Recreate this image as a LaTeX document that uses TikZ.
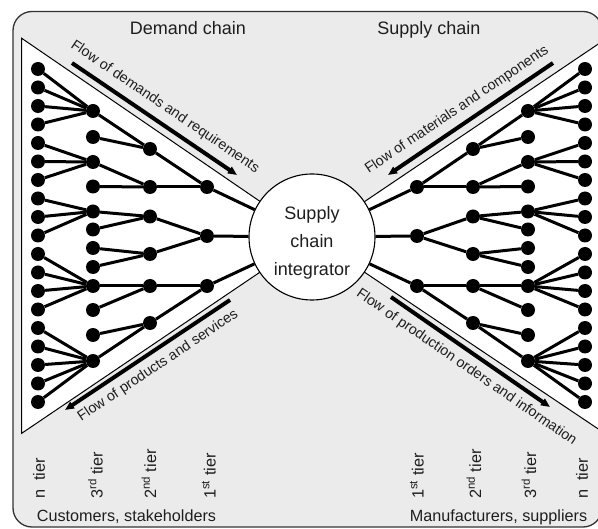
\documentclass[tikz,border=0pt]{standalone}
\usepackage{fontspec}
\setmainfont{Liberation Sans}
\usetikzlibrary{arrows.meta}
\definecolor{bggray}{RGB}{235,235,235}
\definecolor{txt}{RGB}{30,30,30}
\tikzset{
  dot/.style={circle, fill=black, inner sep=0pt, minimum size=14pt},
  link/.style={line width=3pt},
  flowbar/.style={line width=4pt, -{Triangle[length=9pt,width=7.5pt]}},
  flowtext/.style={font=\fontsize{14.3}{17}\selectfont, inner sep=0pt, text=txt},
  tiertext/.style={font=\fontsize{16.3}{19}\selectfont, rotate=90, anchor=west, inner sep=0pt, text=txt},
  titletext/.style={font=\fontsize{18}{21}\selectfont, anchor=base, inner sep=0pt, text=txt},
  bottomtext/.style={font=\fontsize{16.2}{19}\selectfont, anchor=base, inner sep=0pt, text=txt},
}
\begin{document}
\begin{tikzpicture}[x=1pt,y=-1pt]
\useasboundingbox (0,0) rectangle (598,529);
% frame
\draw[fill=bggray, draw=black!80, line width=1.3pt, rounded corners=19pt] (13,11.5) rectangle (602,527);
% triangles
\draw[fill=white, line width=1pt] (21.7,38.3) -- (312,237) -- (21.7,433.3) -- cycle;
\draw[fill=white, line width=1pt] (605,39.5) -- (312,237) -- (605,433.5) -- cycle;
% titles
\node[titletext] (tdemand) at (188,35) {Demand chain};
\node[titletext] (tsupply) at (429,35) {Supply chain};
% flow arrows
\coordinate (lta) at (72,63);  \coordinate (ltb) at (237,175);
\coordinate (lba) at (230,300); \coordinate (lbb) at (65,410);
\coordinate (rta) at (553,63); \coordinate (rtb) at (388,175);
\coordinate (rba) at (391,297); \coordinate (rbb) at (550,407);
\draw[flowbar] (lta) -- (ltb);
\draw[flowbar] (lba) -- (lbb);
\draw[flowbar] (rta) -- (rtb);
\draw[flowbar] (rba) -- (rbb);
\node[flowtext, rotate=-34.2] (flt) at (165,107) {Flow of demands and requirements};
\node[flowtext, rotate=33.7] (flb) at (158,366) {Flow of products and services};
\node[flowtext, rotate=34.0] (frt) at (457,110) {Flow of materials and components};
\node[flowtext, rotate=-34.6] (frb) at (466.5,367.5) {Flow of production orders and information};
% integrator circle
\node[circle, draw, fill=white, line width=1.1pt, minimum size=126pt, inner sep=0pt] (integ) at (312,237) {};
\node[align=center, inner sep=0pt, font=\fontsize{18}{28}\selectfont, text=txt] (integtext) at (312,242.5) {Supply\\chain\\integrator};
% dots
\foreach \i in {1,...,19} {
  \pgfmathsetmacro\yy{69+18.5*(\i-1)}
  \node[dot] (Ln\i) at (38,\yy) {};
  \node[dot] (Rn\i) at (585,\yy) {};
}
\foreach \n/\y in {a/111,b/137,c/162,d/186.5,e/211.5,f/229.5,g/248,h/267,i/286,j/310,k/335,l/361} {
  \node[dot] (L3\n) at (93,\y) {};
  \node[dot] (R3\n) at (528,\y) {};
}
\foreach \n/\y in {1/149,2/187,3/216.5,4/254,5/286,6/323} {
  \node[dot] (L2\n) at (150,\y) {};
  \node[dot] (R2\n) at (473,\y) {};
}
\foreach \n/\y in {1/187,2/236,3/286} {
  \node[dot] (L1\n) at (207,\y) {};
  \node[dot] (R1\n) at (417,\y) {};
}
% links
\foreach \s in {L,R} {
  \foreach \k in {1,2,3,4} { \draw[link] (\s n\k) -- (\s3a); }
  \foreach \k in {5,6,7} { \draw[link] (\s n\k) -- (\s3c); }
  \foreach \k in {8,9,10} { \draw[link] (\s n\k) -- (\s3e); }
  \foreach \k in {11,12,13,14} { \draw[link] (\s n\k) -- (\s3i); }
  \foreach \k in {15,16,17,18,19} { \draw[link] (\s n\k) -- (\s3l); }
  \foreach \a/\b in {a/1,b/1,c/2,d/2,e/3,f/3,g/4,h/4,i/5,j/5,k/6,l/6} { \draw[link] (\s3\a) -- (\s2\b); }
  \foreach \a/\b in {1/1,2/1,3/2,4/2,5/3,6/3} { \draw[link] (\s2\a) -- (\s1\b); }
  \foreach \a in {1,2,3} { \draw[link] (\s1\a) -- (integ); }
}
% tier labels
\node[tiertext] (ltn) at (39,499) {n\ \ tier};
\node[tiertext] (lt3) at (95.5,499) {3\textsuperscript{rd} tier};
\node[tiertext] (lt2) at (149,499) {2\textsuperscript{nd} tier};
\node[tiertext] (lt1) at (209,499) {1\textsuperscript{st} tier};
\node[tiertext] (rt1) at (417,499) {1\textsuperscript{st} tier};
\node[tiertext] (rt2) at (474,499) {2\textsuperscript{nd} tier};
\node[tiertext] (rt3) at (529,499) {3\textsuperscript{rd} tier};
\node[tiertext] (rtn) at (582,499) {n\ \ tier};
% bottom labels
\node[bottomtext] (cust) at (126.5,522) {Customers, stakeholders};
\node[bottomtext] (manu) at (498.5,522) {Manufacturers, suppliers};
\end{tikzpicture}
\end{document}
